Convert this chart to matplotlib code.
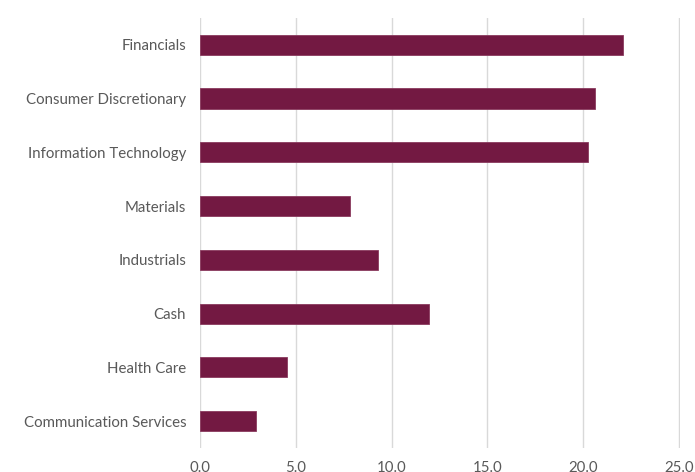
import matplotlib.pyplot as plt

plt.rcParams['font.family'] = ['Lato', 'DejaVu Sans']

# Sector weights (%)
sectors = ['Financials', 'Consumer Discretionary', 'Information Technology',
           'Materials', 'Industrials', 'Cash', 'Health Care',
           'Communication Services']
weights = [22.05, 20.63, 20.26, 7.8, 9.3, 11.94, 4.55, 2.92]
xticks = [0, 5, 10, 15, 20, 25]

fig = plt.figure(figsize=(6.95, 4.72), dpi=100)
ax = fig.add_axes([0.2878, 0.0508, 0.978 - 0.2878, 0.962 - 0.0508])

pos = list(range(len(sectors)))
ax.barh(pos, weights, height=0.375, color='#731942', edgecolor='#8a3a5e',
        linewidth=0.6, zorder=3)

ax.set_ylim(len(sectors) - 0.5, -0.5)
ax.set_xlim(0, 25.03)
ax.set_yticks(pos)
ax.set_yticklabels(sectors)
ax.set_xticks(xticks)
ax.set_xticklabels([f'{t:.1f}' for t in xticks])

ax.grid(axis='x', color='#d9d9d9', linewidth=1, zorder=0)
for s in ax.spines.values():
    s.set_visible(False)
ax.tick_params(axis='both', length=0, colors='#595959', labelsize=10.8)
ax.tick_params(axis='y', pad=10)
ax.tick_params(axis='x', pad=9.5)

fig.savefig('out.png', dpi=100)
